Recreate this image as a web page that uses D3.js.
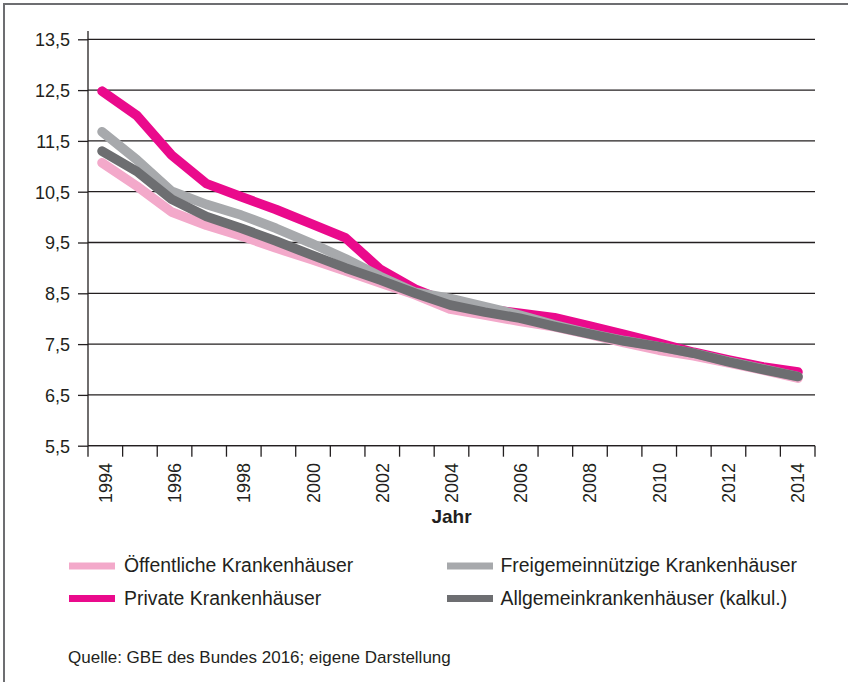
<!DOCTYPE html>
<html>
<head>
<meta charset="utf-8">
<script src="https://cdn.jsdelivr.net/npm/d3@7"></script>
<style>
  html, body { margin: 0; padding: 0; background: #fff; }
  svg { display: block; }
</style>
</head>
<body>
<svg id="chart" width="848" height="682"></svg>
<script>
// ---- data ----
const years = ["1994","1995","1996","1997","1998","1999","2000","2001","2002","2003","2004",
               "2005","2006","2007","2008","2009","2010","2011","2012","2013","2014"];
const xTickLabels = ["1994","1996","1998","2000","2002","2004","2006","2008","2010","2012","2014"];
const yTicks = [5.5, 6.5, 7.5, 8.5, 9.5, 10.5, 11.5, 12.5, 13.5];
const yTickLabels = ["5,5","6,5","7,5","8,5","9,5","10,5","11,5","12,5","13,5"];

const oeffentlich = [11.07, 10.61, 10.10, 9.84, 9.63, 9.39, 9.17, 8.94, 8.70, 8.47, 8.19, 8.07, 7.95, 7.84, 7.69, 7.53, 7.38, 7.27, 7.13, 6.99, 6.83];
const privat      = [12.48, 12.00, 11.22, 10.66, 10.40, 10.15, 9.87, 9.59, 8.97, 8.58, 8.31, 8.19, 8.11, 8.02, 7.86, 7.69, 7.52, 7.34, 7.19, 7.05, 6.95];
const freigemein  = [11.68, 11.13, 10.51, 10.25, 10.04, 9.78, 9.49, 9.18, 8.83, 8.52, 8.40, 8.24, 8.07, 7.88, 7.71, 7.57, 7.45, 7.32, 7.16, 7.01, 6.86];
const allgemein   = [11.30, 10.90, 10.35, 10.01, 9.78, 9.53, 9.26, 9.00, 8.76, 8.50, 8.27, 8.13, 8.01, 7.85, 7.70, 7.56, 7.45, 7.32, 7.15, 7.00, 6.86];

const seriesNames = ["Öffentliche Krankenhäuser", "Private Krankenhäuser",
                     "Freigemeinnützige Krankenhäuser", "Allgemeinkrankenhäuser (kalkul.)"];
const seriesColors = ["#f3a9ca", "#ea0a8c", "#a7a9ac", "#6d6e71"];
const xTitle = "Jahr";
const sourceText = "Quelle: GBE des Bundes 2016; eigene Darstellung";

const series = [
  { name: seriesNames[0], color: seriesColors[0], values: oeffentlich },
  { name: seriesNames[1], color: seriesColors[1], values: privat },
  { name: seriesNames[2], color: seriesColors[2], values: freigemein },
  { name: seriesNames[3], color: seriesColors[3], values: allgemein }
];

(function () {
// ---- layout ----
const svg = d3.select("#chart");
const pLeft = 88, pRight = 815, pTop = 39.3, pBottom = 445.7;
const narrow = "'Liberation Sans Narrow','Arial Narrow','Liberation Sans',sans-serif";
const regular = "'Liberation Sans',Arial,sans-serif";
const ink = "#231f20";

// frame
svg.append("path")
  .attr("d", "M4,690 L4,4 L860,4")
  .attr("fill", "none")
  .attr("stroke", "#6d6e71")
  .attr("stroke-width", 2);

const x = d3.scaleBand().domain(years).range([pLeft, pRight]).paddingInner(0).paddingOuter(0);
const xLine = d3.scalePoint().domain(years).range([102, 798]);
const y = d3.scaleLinear().domain([5.5, 13.5]).range([pBottom, pTop]);

// gridlines
svg.append("g").selectAll("line").data(yTicks).join("line")
  .attr("x1", pLeft).attr("x2", pRight)
  .attr("y1", d => y(d)).attr("y2", d => y(d))
  .attr("stroke", ink).attr("stroke-width", 1.3);

// y axis
const yAxis = d3.axisLeft(y).tickValues(yTicks)
  .tickFormat((d, i) => yTickLabels[i]).tickSize(10).tickPadding(8);
const gy = svg.append("g").attr("transform", `translate(${pLeft},0)`).call(yAxis);
gy.select(".domain").remove();
gy.selectAll(".tick line").attr("stroke", ink).attr("stroke-width", 1.3);
gy.selectAll(".tick text").attr("fill", ink)
  .style("font-family", narrow).style("font-size", "18px").attr("dy", "0.36em");
svg.append("line")
  .attr("x1", pLeft).attr("x2", pLeft).attr("y1", 31).attr("y2", pBottom)
  .attr("stroke", ink).attr("stroke-width", 1.3);

// x axis (ticks at band boundaries)
const boundaries = years.map(d => x(d)).concat([pRight]);
svg.append("line")
  .attr("x1", pLeft).attr("x2", pRight).attr("y1", pBottom).attr("y2", pBottom)
  .attr("stroke", ink).attr("stroke-width", 1.3);
svg.append("g").selectAll("line").data(boundaries).join("line")
  .attr("x1", d => d).attr("x2", d => d)
  .attr("y1", pBottom).attr("y2", pBottom + 11)
  .attr("stroke", ink).attr("stroke-width", 1.3);
svg.append("g").selectAll("text").data(xTickLabels).join("text")
  .attr("transform", d => `translate(${x(d) + x.bandwidth() / 2},463) rotate(-90)`)
  .attr("text-anchor", "end")
  .attr("dy", "0.36em")
  .attr("fill", ink)
  .style("font-family", narrow).style("font-size", "18px")
  .text(d => d);

svg.append("text")
  .attr("x", (pLeft + pRight) / 2).attr("y", 523)
  .attr("text-anchor", "middle")
  .attr("fill", ink)
  .style("font-family", regular).style("font-size", "19px").style("font-weight", "bold")
  .text(xTitle);

// lines
const line = d3.line()
  .x((d, i) => xLine(years[i]))
  .y(d => y(d))
  .curve(d3.curveLinear);

svg.append("g").selectAll("path").data(series).join("path")
  .attr("d", d => line(d.values))
  .attr("fill", "none")
  .attr("stroke", d => d.color)
  .attr("stroke-width", 9.5)
  .attr("stroke-linecap", "round")
  .attr("stroke-linejoin", "round");

// legend
const legendPos = [
  { sx: 69, tx: 124, y: 566 },
  { sx: 69, tx: 124, y: 598.5 },
  { sx: 447, tx: 500.5, y: 566 },
  { sx: 447, tx: 500.5, y: 598.5 }
];
const lg = svg.append("g").selectAll("g").data(series).join("g");
lg.append("rect")
  .attr("x", (d, i) => legendPos[i].sx)
  .attr("y", (d, i) => legendPos[i].y - 3.5)
  .attr("width", 46).attr("height", 7)
  .attr("fill", d => d.color);
lg.append("text")
  .attr("x", (d, i) => legendPos[i].tx)
  .attr("y", (d, i) => legendPos[i].y + 6)
  .attr("fill", ink)
  .style("font-family", regular).style("font-size", "19.4px")
  .text(d => d.name);

// source
svg.append("text")
  .attr("x", 68).attr("y", 663)
  .attr("fill", ink)
  .style("font-family", regular).style("font-size", "17px")
  .text(sourceText);
})();
</script>
</body>
</html>
